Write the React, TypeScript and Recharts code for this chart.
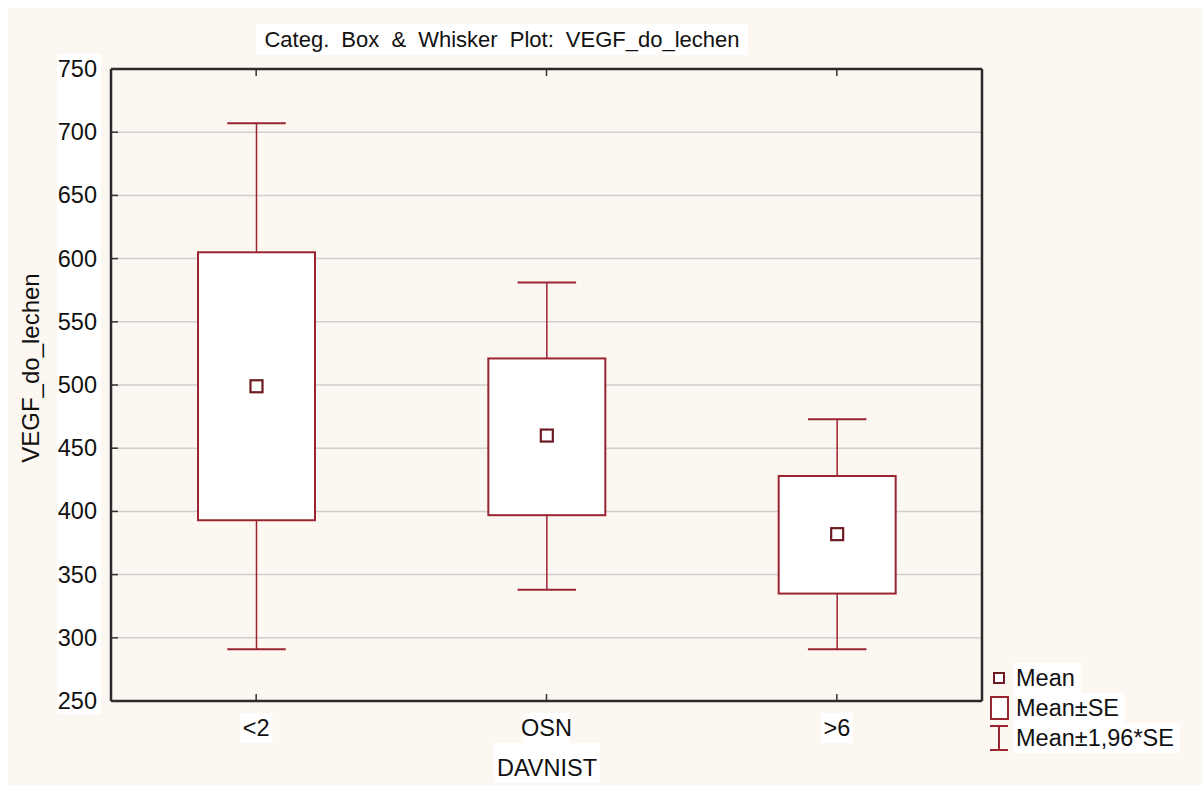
import React from 'react';
import { ComposedChart, Bar, XAxis, YAxis, CartesianGrid } from 'recharts';

const categories = ['<2', 'OSN', '>6'];
const means = [499, 460, 382];
const seLow = [393, 397, 335];
const seHigh = [605, 521, 428];
const ciLow = [291, 338, 291];
const ciHigh = [707, 581, 473];
const yTicks = [250, 300, 350, 400, 450, 500, 550, 600, 650, 700, 750];
const legendItems = [
  { label: 'Mean', kind: 'mean' },
  { label: 'Mean±SE', kind: 'box' },
  { label: 'Mean±1,96*SE', kind: 'whisker' },
];

const RED = '#9a2530';
const DARK = '#6e1c22';
const FONT = '"Liberation Sans", Arial, sans-serif';
const FS = 23.5;

const data = categories.map((c, i) => ({
  name: c,
  mean: means[i],
  seLow: seLow[i],
  seHigh: seHigh[i],
  ciLow: ciLow[i],
  ciHigh: ciHigh[i],
}));

const BoxShape = (props: any) => {
  const { x, y, width, height, payload } = props;
  if (height == null || width == null) return null;
  const k = height / (payload.ciHigh - payload.ciLow);
  const py = (v: number) => y + (payload.ciHigh - v) * k;
  const cx = x + width / 2;
  const cap = width / 2;
  return (
    <g>
      <line x1={cx} x2={cx} y1={py(payload.ciHigh)} y2={py(payload.ciLow)} stroke={RED} strokeWidth={1.5} />
      <line x1={cx - cap / 2} x2={cx + cap / 2} y1={py(payload.ciHigh)} y2={py(payload.ciHigh)} stroke={RED} strokeWidth={2} />
      <line x1={cx - cap / 2} x2={cx + cap / 2} y1={py(payload.ciLow)} y2={py(payload.ciLow)} stroke={RED} strokeWidth={2} />
      <rect
        x={x}
        y={py(payload.seHigh)}
        width={width}
        height={py(payload.seLow) - py(payload.seHigh)}
        fill="#fff"
        stroke={RED}
        strokeWidth={2}
      />
      <rect x={cx - 6} y={py(payload.mean) - 6} width={12} height={12} fill="#fff" stroke={DARK} strokeWidth={2.2} />
    </g>
  );
};

const YTick = (props: any) => {
  const { x, y, payload } = props;
  const v = payload.value;
  const top = v === 750 ? y - 15 : y - 32;
  const bottom = v === 250 ? y + 13 : y + 32;
  return (
    <g>
      <rect x={x - 40} y={top} width={44} height={bottom - top} fill="#fff" />
      <line x1={x + 14} x2={x + 21} y1={y} y2={y} stroke="#333" strokeWidth={1.5} />
      <text x={x} y={y + 8} textAnchor="end" fontFamily={FONT} fontSize={FS} fill="#111">
        {v}
      </text>
    </g>
  );
};

const XTick = (props: any) => {
  const { x, y, payload } = props;
  const w = payload.value.length * 14 + 4;
  return (
    <g>
      <line x1={x} x2={x} y1={y} y2={y - 7} stroke="#333" strokeWidth={1.5} />
      <rect x={x - w / 2} y={y + 12} width={w} height={30} fill="#fff" />
      <text x={x} y={y + 35} textAnchor="middle" fontFamily={FONT} fontSize={FS} fill="#111">
        {payload.value}
      </text>
    </g>
  );
};

const TopTick = (props: any) => {
  const { x, y } = props;
  return <line x1={x} x2={x} y1={y} y2={y + 7} stroke="#333" strokeWidth={1.5} />;
};

const LegendBox = () => (
  <div style={{ position: 'absolute', left: 986, top: 663, fontFamily: FONT, fontSize: FS, color: '#111' }}>
    {legendItems.map((it) => (
      <div key={it.label} style={{ display: 'flex', alignItems: 'center', height: 30 }}>
        <svg width={28} height={30} style={{ flex: 'none' }}>
          {it.kind === 'mean' && <rect x={8} y={10} width={10} height={10} fill="#fff" stroke={DARK} strokeWidth={2} />}
          {it.kind === 'box' && <rect x={5} y={4} width={17} height={22} fill="#fff" stroke={RED} strokeWidth={2} />}
          {it.kind === 'whisker' && (
            <g stroke={RED} strokeWidth={2}>
              <line x1={4} x2={22} y1={3} y2={3} />
              <line x1={13} x2={13} y1={3} y2={27} />
              <line x1={4} x2={22} y1={27} y2={27} />
            </g>
          )}
        </svg>
        <span style={{ background: '#fff', paddingLeft: 2, paddingRight: 6, lineHeight: '30px' }}>{it.label}</span>
      </div>
    ))}
  </div>
);

export default function App() {
  return (
    <div style={{ position: 'absolute', left: 0, top: 0, width: 1202, height: 787, background: '#fff', overflow: 'hidden' }}>
      <div style={{ position: 'absolute', left: 8, top: 8, right: 0, bottom: 2, background: '#fcf7f0' }} />
      <div
        style={{
          position: 'absolute',
          left: 256,
          top: 24,
          width: 492,
          height: 31,
          background: '#fff',
          fontFamily: FONT,
          fontSize: 22,
          lineHeight: '31px',
          textAlign: 'center',
          color: '#111',
          wordSpacing: 6,
          whiteSpace: 'nowrap',
        }}
      >
        Categ. Box &amp; Whisker Plot: VEGF_do_lechen
      </div>
      <div
        style={{
          position: 'absolute',
          left: 31,
          top: 368,
          transform: 'translate(-50%, -50%) rotate(-90deg)',
          fontFamily: FONT,
          fontSize: 24,
          color: '#111',
          whiteSpace: 'nowrap',
        }}
      >
        VEGF_do_lechen
      </div>
      <div
        style={{
          position: 'absolute',
          left: 494,
          top: 743,
          width: 106,
          height: 40,
          background: '#fff',
          fontFamily: FONT,
          fontSize: FS,
          lineHeight: '50px',
          textAlign: 'center',
          color: '#111',
        }}
      >
        DAVNIST
      </div>
      <div style={{ position: 'absolute', left: 0, top: 0 }}>
        <ComposedChart width={1202} height={787} data={data} margin={{ top: 68, right: 219, bottom: 56, left: 0 }}>
          <CartesianGrid vertical={false} stroke="#cfcfcf" strokeWidth={1.5} xAxisId="bottom" yAxisId="left" />
          <XAxis
            dataKey="name"
            xAxisId="bottom"
            height={30}
            tickSize={0}
            tickMargin={0}
            interval={0}
            axisLine={{ stroke: '#2a2a2a', strokeWidth: 2.5 }}
            tick={<XTick />}
          />
          <XAxis
            dataKey="name"
            xAxisId="top"
            orientation="top"
            height={1}
            tickSize={0}
            tickMargin={0}
            interval={0}
            axisLine={{ stroke: '#2a2a2a', strokeWidth: 2.5 }}
            tick={<TopTick />}
          />
          <YAxis
            yAxisId="left"
            type="number"
            domain={[250, 750]}
            ticks={yTicks}
            width={111}
            tickSize={0}
            tickMargin={14}
            interval={0}
            axisLine={{ stroke: '#2a2a2a', strokeWidth: 2.5 }}
            tick={<YTick />}
          />
          <YAxis
            yAxisId="right"
            orientation="right"
            type="number"
            domain={[250, 750]}
            width={1}
            tick={false}
            tickLine={false}
            axisLine={{ stroke: '#2a2a2a', strokeWidth: 2.5 }}
          />
          <Bar
            dataKey={(d: any) => [d.ciLow, d.ciHigh]}
            xAxisId="bottom"
            yAxisId="left"
            barSize={117}
            shape={<BoxShape />}
            isAnimationActive={false}
          />
          <Bar
            dataKey={(d: any) => [d.ciLow, d.ciHigh]}
            xAxisId="top"
            yAxisId="right"
            barSize={1}
            shape={() => <g />}
            isAnimationActive={false}
          />
        </ComposedChart>
      </div>
      <LegendBox />
    </div>
  );
}
